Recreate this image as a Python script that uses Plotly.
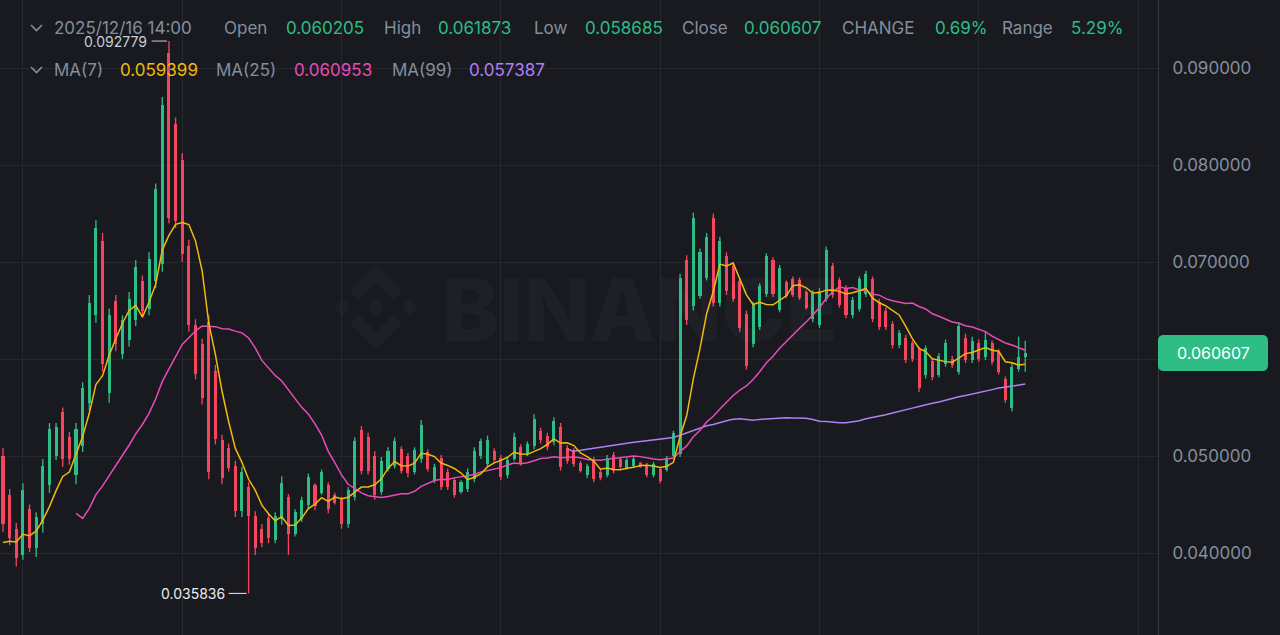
import plotly.graph_objects as go
import pandas as pd

# ---------------- data ----------------
last_time = "2025-12-16 14:00"

# closes of the 13 candles that lie left of the visible window (only used by the moving averages)
warmup_close = [0.0700, 0.0400, 0.0380, 0.0370, 0.0365, 0.0370, 0.0375,
                0.0405, 0.0400, 0.0410, 0.0415, 0.0405, 0.0410]

opens = [
    0.0500, 0.0460, 0.0425, 0.0398, 0.0445, 0.0405, 0.0430, 0.0470, 0.0500, 0.0545,
    0.0520, 0.0480, 0.0510, 0.0555, 0.0645, 0.0722, 0.0565, 0.0660, 0.0605, 0.0620,
    0.0640, 0.0680, 0.0652, 0.0680, 0.0698, 0.0915, 0.0842, 0.0805, 0.0716, 0.0635,
    0.0615, 0.0638, 0.0588, 0.0516, 0.0508, 0.0490, 0.0443, 0.0468, 0.0438, 0.0425,
    0.0436, 0.0413, 0.0435, 0.0458, 0.0420, 0.0435, 0.0450, 0.0470, 0.0462, 0.0470,
    0.0460, 0.0456, 0.0430, 0.0458, 0.0527, 0.0520, 0.0500, 0.0463, 0.0487, 0.0490,
    0.0507, 0.0500, 0.0484, 0.0497, 0.0504, 0.0475, 0.0498, 0.0484, 0.0475, 0.0463,
    0.0466, 0.0476, 0.0500, 0.0492, 0.0505, 0.0498, 0.0480, 0.0497, 0.0509, 0.0502,
    0.0510, 0.0526, 0.0521, 0.0514, 0.0530, 0.0508, 0.0505, 0.0493, 0.0480, 0.0496,
    0.0484, 0.0480, 0.0501, 0.0497, 0.0488, 0.0490, 0.0493, 0.0491, 0.0480, 0.0487,
    0.0486, 0.0500, 0.0502, 0.0702, 0.0655, 0.0665, 0.0684, 0.0745, 0.0658, 0.0706,
    0.0696, 0.0680, 0.0646, 0.0615, 0.0633, 0.0667, 0.0702, 0.0651, 0.0679, 0.0682,
    0.0681, 0.0669, 0.0641, 0.0635, 0.0662, 0.0696, 0.0681, 0.0673, 0.0645, 0.0652,
    0.0667, 0.0682, 0.0659, 0.0650, 0.0636, 0.0614, 0.0622, 0.0616, 0.0610, 0.0583,
    0.0598, 0.0584, 0.0595, 0.0600, 0.0587, 0.0622, 0.0599, 0.0616, 0.0602, 0.0616,
    0.0607, 0.0579, 0.0550, 0.0590, 0.060205]

highs = [
    0.0508, 0.0466, 0.0431, 0.0472, 0.0450, 0.0442, 0.0497, 0.0534, 0.0534, 0.0550,
    0.0525, 0.0534, 0.0576, 0.0666, 0.0743, 0.0730, 0.0652, 0.0666, 0.0645, 0.0669,
    0.0702, 0.0686, 0.0710, 0.0781, 0.0870, 0.092779, 0.0849, 0.0812, 0.0723, 0.0641,
    0.0621, 0.0645, 0.0594, 0.0522, 0.0513, 0.0495, 0.0489, 0.0473, 0.0443, 0.0430,
    0.0441, 0.0442, 0.0479, 0.0461, 0.0445, 0.0458, 0.0482, 0.0472, 0.0486, 0.0473,
    0.0462, 0.0458, 0.0468, 0.0519, 0.0531, 0.0524, 0.0505, 0.0499, 0.0509, 0.0519,
    0.0510, 0.0503, 0.0509, 0.0537, 0.0507, 0.0492, 0.0501, 0.0487, 0.0478, 0.0475,
    0.0487, 0.0509, 0.0518, 0.0521, 0.0508, 0.0501, 0.0499, 0.0524, 0.0512, 0.0515,
    0.0543, 0.0529, 0.0524, 0.0540, 0.0534, 0.0511, 0.0508, 0.0495, 0.0492, 0.0499,
    0.0486, 0.0501, 0.0504, 0.0499, 0.0498, 0.0499, 0.0494, 0.0493, 0.0494, 0.0489,
    0.0500, 0.0526, 0.0688, 0.0707, 0.0751, 0.0714, 0.0730, 0.0750, 0.0726, 0.0710,
    0.0700, 0.0683, 0.0650, 0.0659, 0.0678, 0.0709, 0.0705, 0.0697, 0.0681, 0.0685,
    0.0684, 0.0671, 0.0671, 0.0673, 0.0716, 0.0699, 0.0684, 0.0676, 0.0664, 0.0685,
    0.0691, 0.0685, 0.0662, 0.0653, 0.0639, 0.0630, 0.0625, 0.0619, 0.0613, 0.0614,
    0.0601, 0.0606, 0.0620, 0.0603, 0.0638, 0.0626, 0.0623, 0.0620, 0.0628, 0.0619,
    0.0610, 0.0582, 0.0597, 0.0623, 0.061873]

lows = [
    0.0422, 0.0408, 0.0386, 0.0393, 0.0401, 0.0396, 0.0421, 0.0462, 0.0496, 0.0489,
    0.0491, 0.0471, 0.0504, 0.0547, 0.0637, 0.0587, 0.0555, 0.0608, 0.0600, 0.0613,
    0.0634, 0.0643, 0.0645, 0.0673, 0.0690, 0.0740, 0.0735, 0.0700, 0.0628, 0.0579,
    0.0553, 0.0476, 0.0512, 0.0471, 0.0484, 0.0437, 0.0437, 0.035836, 0.0398, 0.0406,
    0.0410, 0.0410, 0.0429, 0.0398, 0.0417, 0.0432, 0.0446, 0.0444, 0.0460, 0.0441,
    0.0450, 0.0425, 0.0426, 0.0454, 0.0481, 0.0481, 0.0455, 0.0460, 0.0484, 0.0487,
    0.0482, 0.0478, 0.0481, 0.0493, 0.0484, 0.0472, 0.0465, 0.0465, 0.0457, 0.0461,
    0.0463, 0.0473, 0.0497, 0.0488, 0.0493, 0.0475, 0.0477, 0.0495, 0.0490, 0.0500,
    0.0507, 0.0513, 0.0506, 0.0511, 0.0485, 0.0492, 0.0489, 0.0483, 0.0477, 0.0473,
    0.0475, 0.0478, 0.0482, 0.0487, 0.0486, 0.0488, 0.0488, 0.0478, 0.0478, 0.0472,
    0.0484, 0.0499, 0.0499, 0.0635, 0.0650, 0.0662, 0.0681, 0.0654, 0.0654, 0.0666,
    0.0659, 0.0628, 0.0589, 0.0612, 0.0630, 0.0664, 0.0664, 0.0648, 0.0663, 0.0664,
    0.0661, 0.0651, 0.0638, 0.0632, 0.0659, 0.0663, 0.0653, 0.0642, 0.0642, 0.0649,
    0.0664, 0.0638, 0.0630, 0.0630, 0.0611, 0.0611, 0.0596, 0.0597, 0.0566, 0.0580,
    0.0578, 0.0581, 0.0592, 0.0591, 0.0584, 0.0596, 0.0596, 0.0597, 0.0599, 0.0594,
    0.0584, 0.0555, 0.0546, 0.0587, 0.058685]

closes = [
    0.0430, 0.0415, 0.0395, 0.0465, 0.0405, 0.0437, 0.0490, 0.0528, 0.0530, 0.0497,
    0.0497, 0.0528, 0.0570, 0.0658, 0.0735, 0.0595, 0.0645, 0.0615, 0.0640, 0.0662,
    0.0695, 0.0650, 0.0703, 0.0775, 0.0862, 0.0745, 0.0742, 0.0708, 0.0635, 0.0585,
    0.0560, 0.0484, 0.0518, 0.0477, 0.0488, 0.0443, 0.0484, 0.0438, 0.0405, 0.0410,
    0.0415, 0.0438, 0.0472, 0.0420, 0.0442, 0.0455, 0.0478, 0.0448, 0.0484, 0.0445,
    0.0452, 0.0430, 0.0465, 0.0515, 0.0485, 0.0485, 0.0460, 0.0495, 0.0505, 0.0515,
    0.0485, 0.0482, 0.0506, 0.0532, 0.0487, 0.0489, 0.0468, 0.0468, 0.0460, 0.0473,
    0.0484, 0.0505, 0.0515, 0.0517, 0.0496, 0.0478, 0.0496, 0.0520, 0.0493, 0.0512,
    0.0538, 0.0516, 0.0509, 0.0536, 0.0489, 0.0495, 0.0492, 0.0485, 0.0490, 0.0476,
    0.0477, 0.0498, 0.0485, 0.0489, 0.0496, 0.0497, 0.0489, 0.0480, 0.0492, 0.0474,
    0.0498, 0.0524, 0.0684, 0.0640, 0.0745, 0.0710, 0.0726, 0.0658, 0.0722, 0.0670,
    0.0662, 0.0632, 0.0593, 0.0656, 0.0675, 0.0706, 0.0667, 0.0694, 0.0665, 0.0666,
    0.0663, 0.0653, 0.0668, 0.0670, 0.0712, 0.0666, 0.0656, 0.0645, 0.0661, 0.0682,
    0.0688, 0.0641, 0.0633, 0.0633, 0.0614, 0.0627, 0.0599, 0.0600, 0.0570, 0.0611,
    0.0581, 0.0603, 0.0617, 0.0594, 0.0634, 0.0599, 0.0619, 0.0600, 0.0620, 0.0597,
    0.0587, 0.0558, 0.0592, 0.0602, 0.060607]

y_ticks = [0.04, 0.05, 0.06, 0.07, 0.08, 0.09]
y_ticktext = ["0.040000", "0.050000", "", "0.070000", "0.080000", "0.090000"]

header_items = [("2025/12/16 14:00", "label", 52), ("Open", "label", 222), ("0.060205", "value", 284),
                ("High", "label", 382), ("0.061873", "value", 436), ("Low", "label", 532),
                ("0.058685", "value", 583), ("Close", "label", 680), ("0.060607", "value", 742),
                ("CHANGE", "label", 840), ("0.69%", "value", 933), ("Range", "label", 1000),
                ("5.29%", "value", 1069)]
ma_items = [("MA(7)", "label", 52), ("0.059399", "ma7", 118), ("MA(25)", "label", 214),
            ("0.060953", "ma25", 292), ("MA(99)", "label", 390), ("0.057387", "ma99", 467)]
high_label = "0.092779"
low_label = "0.035836"
last_price_label = "0.060607"

# ---------------- styling ----------------
BG = "#181A20"
GRID = "#25282F"
UP = "#2EBD85"
DOWN = "#F6465D"
TXT = "#848E9C"
MA_COL = {"ma7": "#F0B90B", "ma25": "#E84BB5", "ma99": "#B07FF2"}
FONT = "Inter"

W, H = 1280, 635
PW = 1158  # plot width in px


def px(x):
    return x / PW


def py(y):
    return 1 - y / H


times = pd.date_range(end=last_time, periods=len(closes), freq="h")
HOUR = pd.Timedelta(hours=1)

# moving averages from closes
all_close = pd.Series(warmup_close + closes)
n0 = len(warmup_close)
ma = {k: all_close.rolling(n).mean().iloc[n0:].tolist() for k, n in (("ma7", 7), ("ma25", 25), ("ma99", 99))}

fig = go.Figure()

# wicks
for is_up, col in ((True, UP), (False, DOWN)):
    wx, wy = [], []
    for t, o, h, l, c in zip(times, opens, highs, lows, closes):
        if (c >= o) == is_up:
            wx += [t, t, None]
            wy += [l, h, None]
    fig.add_trace(go.Scatter(x=wx, y=wy, mode="lines", line=dict(color=col, width=1.3),
                             hoverinfo="skip", showlegend=False))

# bodies
for is_up, col in ((True, UP), (False, DOWN)):
    bx, bbase, bh = [], [], []
    for t, o, c in zip(times, opens, closes):
        if (c >= o) == is_up:
            bx.append(t)
            bbase.append(min(o, c))
            bh.append(max(abs(c - o), 0.00006))
    fig.add_trace(go.Bar(x=bx, y=bh, base=bbase, marker=dict(color=col, line=dict(width=0)),
                         width=0.46 * 3600 * 1000, hoverinfo="skip", showlegend=False))

# moving average lines
for k in ("ma99", "ma25", "ma7"):
    fig.add_trace(go.Scatter(x=times, y=ma[k], mode="lines", line=dict(color=MA_COL[k], width=1.5),
                             hoverinfo="skip", showlegend=False))

annotations = []
shapes = []

# watermark
annotations.append(dict(x=px(640), y=py(310), xref="paper", yref="paper", text="BINANCE", showarrow=False,
                        font=dict(family=FONT, size=86, color="rgba(255,255,255,0.028)", weight=800),
                        xanchor="center", yanchor="middle"))
cx, cy, R = 376, 307, 42


def poly(points):
    s = ""
    for i, (a, b) in enumerate(points):
        s += ("M" if i == 0 else "L") + f"{px(cx + a * R):.5f},{py(cy + b * R):.5f} "
    return s + "Z"


logo_parts = [
    [(0, -0.22), (0.22, 0), (0, 0.22), (-0.22, 0)],
    [(-0.8, -0.2), (-0.6, 0), (-0.8, 0.2), (-1.0, 0)],
    [(0.8, -0.2), (1.0, 0), (0.8, 0.2), (0.6, 0)],
    [(0, -1), (0.62, -0.38), (0.42, -0.18), (0, -0.6), (-0.42, -0.18), (-0.62, -0.38)],
    [(0, 1), (0.62, 0.38), (0.42, 0.18), (0, 0.6), (-0.42, 0.18), (-0.62, 0.38)],
]
for p in logo_parts:
    shapes.append(dict(type="path", path=poly(p), xref="paper", yref="paper",
                       fillcolor="rgba(255,255,255,0.028)", line=dict(width=0), layer="below"))


# header rows
def chevron(ymid):
    return dict(type="path", xref="paper", yref="paper",
                path=f"M{px(31):.5f},{py(ymid - 3):.5f} L{px(36.5):.5f},{py(ymid + 2.5):.5f} L{px(42):.5f},{py(ymid - 3):.5f}",
                line=dict(color=TXT, width=1.6))


shapes.append(chevron(28))
shapes.append(chevron(70))
for text, kind, x in header_items:
    annotations.append(dict(x=px(x), y=py(28), xref="paper", yref="paper", text=text, showarrow=False,
                            xanchor="left", yanchor="middle",
                            font=dict(family=FONT, size=17, color=UP if kind == "value" else TXT)))
for text, kind, x in ma_items:
    annotations.append(dict(x=px(x), y=py(70), xref="paper", yref="paper", text=text, showarrow=False,
                            xanchor="left", yanchor="middle",
                            font=dict(family=FONT, size=17, color=MA_COL.get(kind, TXT))))

# extreme labels
i_hi = highs.index(max(highs))
i_lo = lows.index(min(lows))
annotations.append(dict(x=times[i_hi] - 3.0 * HOUR, y=max(highs), xref="x", yref="y", text=high_label,
                        showarrow=False, xanchor="right", yanchor="middle",
                        font=dict(family=FONT, size=14, color="#C9CDD4")))
shapes.append(dict(type="line", xref="x", yref="y", x0=times[i_hi] - 2.6 * HOUR, x1=times[i_hi] - 0.3 * HOUR,
                   y0=max(highs), y1=max(highs), line=dict(color="#C9CDD4", width=1)))
annotations.append(dict(x=times[i_lo] - 3.2 * HOUR, y=min(lows), xref="x", yref="y", text=low_label,
                        showarrow=False, xanchor="right", yanchor="middle",
                        font=dict(family=FONT, size=14, color="#EAECEF")))
shapes.append(dict(type="line", xref="x", yref="y", x0=times[i_lo] - 3.0 * HOUR, x1=times[i_lo] - 0.3 * HOUR,
                   y0=min(lows), y1=min(lows), line=dict(color="#EAECEF", width=1)))

# last price tag
ymin, ymax = 0.031546, 0.09701
yc = 553 - (closes[-1] - 0.04) * 9700
x0t, x1t, r = 1158, 1268, 6
y0t, y1t = yc - 18, yc + 18
tag_path = (f"M{px(x0t + r):.5f},{py(y0t):.5f} L{px(x1t - r):.5f},{py(y0t):.5f} "
            f"Q{px(x1t):.5f},{py(y0t):.5f} {px(x1t):.5f},{py(y0t + r):.5f} "
            f"L{px(x1t):.5f},{py(y1t - r):.5f} Q{px(x1t):.5f},{py(y1t):.5f} {px(x1t - r):.5f},{py(y1t):.5f} "
            f"L{px(x0t + r):.5f},{py(y1t):.5f} Q{px(x0t):.5f},{py(y1t):.5f} {px(x0t):.5f},{py(y1t - r):.5f} "
            f"L{px(x0t):.5f},{py(y0t + r):.5f} Q{px(x0t):.5f},{py(y0t):.5f} {px(x0t + r):.5f},{py(y0t):.5f} Z")
shapes.append(dict(type="path", path=tag_path, xref="paper", yref="paper", fillcolor=UP, line=dict(width=0),
                   layer="above"))
annotations.append(dict(x=px((x0t + x1t) / 2), y=closes[-1], xref="paper", yref="y", text=last_price_label,
                        showarrow=False, xanchor="center", yanchor="middle",
                        font=dict(family=FONT, size=16, color="#FFFFFF")))

fig.update_layout(
    width=W, height=H,
    margin=dict(l=0, r=W - PW, t=0, b=0),
    paper_bgcolor=BG, plot_bgcolor=BG,
    barmode="overlay", bargap=0,
    showlegend=False,
    annotations=annotations, shapes=shapes,
    xaxis=dict(type="date", range=[times[0] - 0.45 * HOUR, times[0] + 174.0 * HOUR],
               showticklabels=False, ticks="", showgrid=True, gridcolor=GRID, gridwidth=1,
               tick0=times[3], dtick=24 * 3600 * 1000, zeroline=False, showline=False, fixedrange=True),
    yaxis=dict(side="right", range=[ymin, ymax], tickvals=y_ticks, ticktext=y_ticktext,
               showgrid=True, gridcolor=GRID, gridwidth=1, zeroline=False,
               showline=True, linecolor="#363A45", linewidth=1, ticks="",
               ticklabelstandoff=10, tickfont=dict(family=FONT, size=17, color=TXT), fixedrange=True),
)

fig.write_html("out.html", config={"displayModeBar": False},
               post_script="document.body.style.margin='0px';document.body.style.background='" + BG + "';")
